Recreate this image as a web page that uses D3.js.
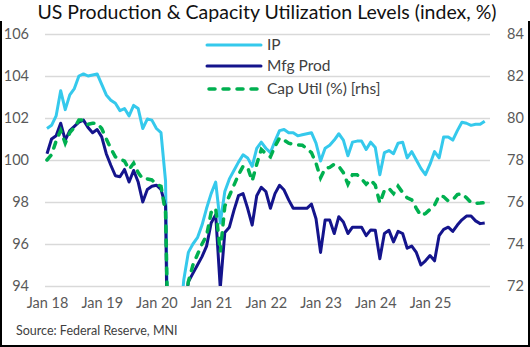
<!DOCTYPE html>
<html>
<head>
<meta charset="utf-8">
<script src="https://cdn.jsdelivr.net/npm/d3@7"></script>
<style>
  body { margin: 0; background: #fff; }
  svg { display: block; font-family: Lato, "Open Sans", sans-serif; }
</style>
</head>
<body>
<div id="chart"></div>
<script>
// monthly, Jan 2018 .. Jan 2026
const yearLabels = ["Jan 18", "Jan 19", "Jan 20", "Jan 21", "Jan 22", "Jan 23", "Jan 24", "Jan 25"];
const leftTicks = [94, 96, 98, 100, 102, 104, 106];
const rightTicks = [72, 74, 76, 78, 80, 82, 84];

const ip = [
  101.5, 101.65, 102.1, 103.3, 102.4, 103.1, 103.4, 104.0, 104.1, 104.0, 104.05, 104.1,
  103.6, 103.1, 102.85, 102.7, 102.35, 102.45, 102.1, 102.6, 102.45, 101.5, 101.95, 101.9,
  101.5, 101.3, 99.0, 84.0, 86.0, 91.8, 94.3, 95.6, 96.0, 96.3, 96.9, 97.7,
  98.4, 98.95, 97.0, 98.5, 99.1, 99.5, 99.9, 100.25, 100.1, 99.7, 100.55, 100.85,
  100.56, 100.35, 100.9, 101.4, 101.45, 101.3, 101.3, 101.15, 101.2, 101.25, 101.3, 100.8,
  99.95, 100.56, 100.7, 100.95, 101.25, 100.95, 100.2, 100.85, 100.9, 100.9, 100.5, 100.85,
  100.6, 99.3, 100.35, 100.45, 100.3, 100.8, 100.85, 100.1, 100.4, 100.0, 99.6, 99.3,
  99.8, 100.4, 100.1, 101.1, 101.1, 100.95, 101.4, 101.8, 101.75, 101.65, 101.7, 101.7,
  101.85
];

const mfg = [
  100.3, 101.0, 101.15, 101.75, 100.95, 101.4, 101.6, 101.8, 101.9, 101.55, 101.3, 101.45,
  101.1, 100.3, 99.75, 99.25, 99.2, 99.55, 98.95, 99.5, 98.95, 98.0, 98.6, 98.75,
  98.8, 98.6, 97.8, 81.0, 84.0, 89.5, 92.5, 94.2, 94.6, 95.0, 95.4, 95.9,
  97.0, 97.4, 93.9, 96.55, 96.8, 97.6, 98.3, 98.4, 97.7, 96.9, 98.3, 98.7,
  98.5, 97.7, 98.4, 98.8, 98.57, 98.1, 97.7, 97.7, 97.7, 97.7, 97.9, 97.2,
  95.6, 97.14, 97.14, 96.5, 97.3, 97.05, 96.5, 96.8, 96.8, 96.8, 96.4, 96.67,
  96.65, 95.3, 96.5, 96.65, 96.1, 96.6, 96.5, 95.8, 95.9, 95.6, 95.0, 95.2,
  95.45, 95.2, 96.4, 96.7, 96.8, 96.6, 96.9, 97.15, 97.33, 97.33, 97.1, 96.97,
  97.0
];

const capUtil = [
  78.0, 78.25, 78.9, 79.4, 78.8, 79.3, 79.55, 79.9, 79.9, 79.7, 79.75, 79.75,
  79.5, 79.0, 78.55, 78.15, 78.05, 77.95, 77.55, 77.85, 77.4, 77.1, 77.1, 77.05,
  76.85, 76.75, 75.5, 64.5, 65.5, 68.5, 70.8, 72.2, 73.0, 73.5, 74.0, 74.4,
  75.5, 75.7, 73.6, 75.8, 76.3, 76.8, 77.3, 77.7, 77.65, 77.0, 77.8, 78.5,
  78.3, 78.15, 78.65, 79.05, 78.95, 78.8, 78.75, 78.72, 78.7, 78.55, 78.35, 77.85,
  77.15, 77.6, 77.65, 77.8, 77.7, 77.4, 76.85, 77.3, 77.3, 77.1, 76.85, 77.05,
  76.8, 75.95, 76.55, 76.65, 76.4, 76.75, 76.45, 76.2, 76.1, 75.7, 75.35, 75.45,
  75.65, 75.85, 76.3, 76.25, 76.05, 76.1, 76.35, 76.4, 76.2, 75.97, 75.94, 75.95,
  75.97
];

const W = 530, H = 347;
const margin = { top: 34, right: 40, bottom: 61, left: 45 },
      width = W - margin.left - margin.right,
      height = H - margin.top - margin.bottom;

const svg = d3.select("#chart")
  .append("svg")
  .attr("width", W)
  .attr("height", H);

// frame (left, right, bottom)
svg.append("path")
  .attr("d", `M1,21 V${H - 1} H${W - 1} V21`)
  .attr("fill", "none")
  .attr("stroke", "#000")
  .attr("stroke-width", 2);

svg.append("text")
  .attr("x", W / 2 + 2)
  .attr("y", 19)
  .attr("text-anchor", "middle")
  .attr("font-size", 19.5)
  .attr("fill", "#111")
  .text("US Production & Capacity Utilization Levels (index, %)");

const g = svg.append("g")
  .attr("transform", `translate(${margin.left},${margin.top})`);

// month index -> x; Jan 18 at 2px in, Jan 25 at 385px
const x = d3.scaleLinear()
  .domain([0, 84])
  .range([2, 385]);

const yL = d3.scaleLinear().domain([94, 106]).range([height, 0]);
const yR = d3.scaleLinear().domain([72, 84]).range([height, 0]);

const left = g.append("g")
  .call(d3.axisLeft(yL).tickValues(leftTicks).tickSize(-width).tickPadding(16));
left.select(".domain").remove();
left.selectAll("line").attr("stroke", "#d9d9d9").attr("stroke-width", 1.3);
left.selectAll("text").attr("fill", "#595959").attr("font-size", 14.5).attr("font-family", "Lato");

const right = g.append("g")
  .attr("transform", `translate(${width},0)`)
  .call(d3.axisRight(yR).tickValues(rightTicks).tickSize(0).tickPadding(17));
right.select(".domain").remove();
right.selectAll("text").attr("fill", "#595959").attr("font-size", 14.5).attr("font-family", "Lato");

const bottom = g.append("g")
  .attr("transform", `translate(0,${height})`)
  .call(d3.axisBottom(x)
    .tickValues(yearLabels.map((d, i) => i * 12))
    .tickFormat((d, i) => yearLabels[i])
    .tickSize(0)
    .tickPadding(12));
bottom.select(".domain").remove();
bottom.selectAll("text").attr("fill", "#595959").attr("font-size", 14.5).attr("font-family", "Lato");

g.append("clipPath")
  .attr("id", "plot-clip")
  .append("rect")
  .attr("x", 0)
  .attr("y", -5)
  .attr("width", width)
  .attr("height", height + 5);

const lineL = d3.line().x((d, i) => x(i)).y(d => yL(d));
const lineR = d3.line().x((d, i) => x(i)).y(d => yR(d));

const plot = g.append("g").attr("clip-path", "url(#plot-clip)");

plot.append("path")
  .datum(ip)
  .attr("fill", "none")
  .attr("stroke", "#35c9ec")
  .attr("stroke-width", 3)
  .attr("stroke-linejoin", "round")
  .attr("d", lineL);

plot.append("path")
  .datum(mfg)
  .attr("fill", "none")
  .attr("stroke", "#14148c")
  .attr("stroke-width", 3)
  .attr("stroke-linejoin", "round")
  .attr("d", lineL);

plot.append("path")
  .datum(capUtil)
  .attr("fill", "none")
  .attr("stroke", "#00b050")
  .attr("stroke-width", 3.5)
  .attr("stroke-linecap", "round")
  .attr("stroke-dasharray", "6,8")
  .attr("d", lineR);

// legend
const legend = [
  { name: "IP", color: "#35c9ec", dash: null, y: 45 },
  { name: "Mfg Prod", color: "#14148c", dash: null, y: 66 },
  { name: "Cap Util (%) [rhs]", color: "#00b050", dash: "6,8", y: 89 }
];
legend.forEach(d => {
  svg.append("line")
    .attr("x1", d.dash ? 209 : 207)
    .attr("x2", 261)
    .attr("y1", d.y)
    .attr("y2", d.y)
    .attr("stroke", d.color)
    .attr("stroke-width", d.dash ? 3.5 : 3)
    .attr("stroke-linecap", "round")
    .attr("stroke-dasharray", d.dash);
  svg.append("text")
    .attr("x", 267)
    .attr("y", d.y)
    .attr("dy", "0.35em")
    .attr("font-size", 15.5)
    .attr("fill", "#404040")
    .text(d.name);
});

svg.append("text")
  .attr("x", 16)
  .attr("y", 335)
  .attr("font-size", 12.5)
  .attr("fill", "#404040")
  .text("Source: Federal Reserve, MNI");
</script>
</body>
</html>
